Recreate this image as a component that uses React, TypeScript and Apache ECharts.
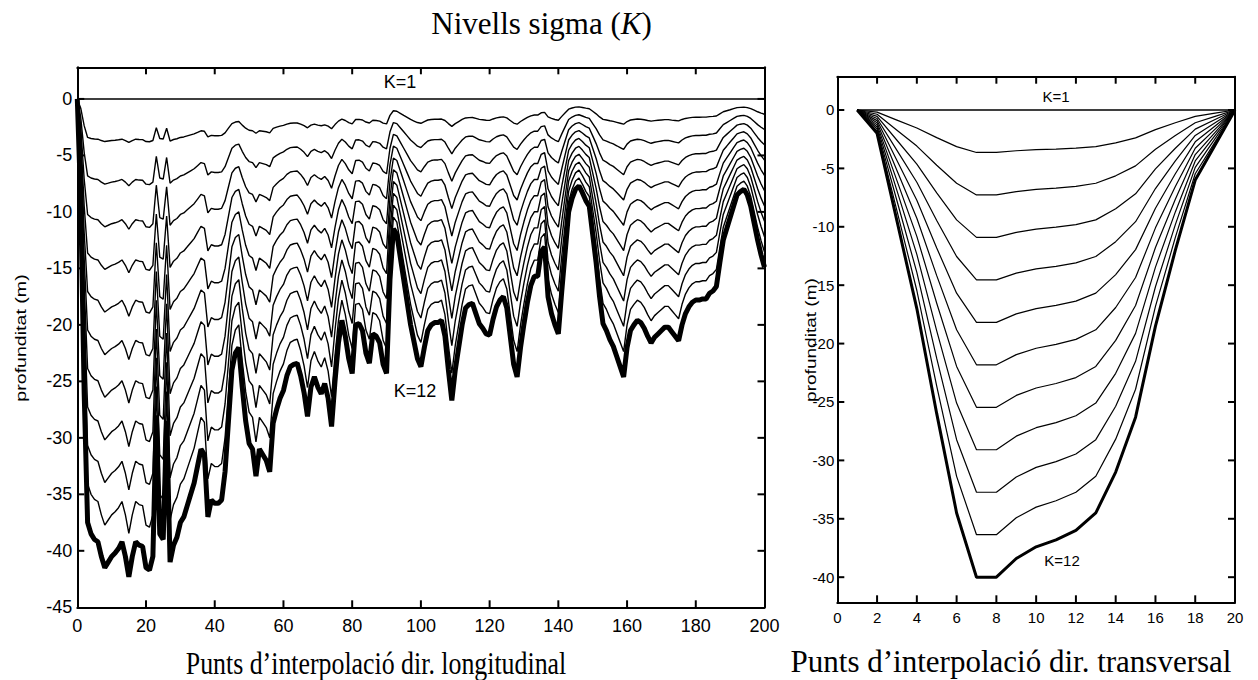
import React, { useEffect, useRef } from "react";
import * as echarts from "echarts";

// ---------- DATA ----------
const SIGMA_LEVELS = 12;

// Bottom depth (K = 12) along the longitudinal direction, x = 0..200
const longDepth: number[] = [
  0, -9, -26, -37.5, -38.5, -39, -39.2, -40.5, -41.5, -41,
  -40.5, -40.2, -39.8, -39.2, -40.5, -42.3, -40.5, -39.2, -39.5, -39.6,
  -41.5, -41.7, -40.5, -28, -38.5, -39, -28.5, -41, -39.5, -38.8,
  -37.5, -37, -36, -35, -34, -32.5, -31, -31.5, -37, -35.5,
  -35.8, -35.8, -35.5, -33, -28.5, -24, -22.5, -22, -25.5, -28.5,
  -30.5, -31, -33.4, -31, -31.5, -32, -33, -28.7, -27.5, -26.5,
  -25.8, -24.5, -23.7, -23.5, -23.4, -24.5, -26, -28.1, -25.5, -24.6,
  -25.5, -26.1, -25.2, -26.5, -29, -25, -21.6, -19.6, -21, -23,
  -24.3, -20, -19.9, -20.5, -22.5, -23.4, -20.8, -21, -21.6, -23.5,
  -24.3, -16, -11.5, -12, -14, -16, -18, -20, -21.5, -23,
  -23.7, -22, -20.5, -20, -19.8, -19.8, -19.6, -21, -24, -26.7,
  -24, -22, -20, -18.5, -18.2, -18.1, -19, -19.9, -20.3, -20.8,
  -20.9, -19.5, -18.4, -17.8, -17.5, -18.5, -21, -23.5, -24.6, -22,
  -19.9, -18, -16.5, -15.7, -15.7, -13.5, -13.1, -17.5, -19, -20,
  -20.8, -17, -13.5, -10, -8.8, -8, -7.7, -8.3, -9, -9.5,
  -12, -14.5, -17.5, -19.9, -20.5, -21.3, -21.9, -22.8, -23.7, -24.6,
  -22, -20.5, -20, -19.6, -19.8, -20.3, -21, -21.6, -21.1, -20.8,
  -20.5, -20.2, -20.2, -20.6, -21, -21.4, -20, -19, -18.4, -18,
  -17.8, -17.8, -17.7, -17.7, -17.2, -17, -16.6, -14.5, -12.5, -11.5,
  -10.5, -9.5, -8.5, -8.2, -8, -8.5, -9.5, -11, -12.5, -13.8,
  -14.9,
];
const longX: number[] = longDepth.map((_, i) => i);

// Bottom depth (K = 12) along the transversal direction
const transX: number[] = [1, 2, 3, 4, 5, 6, 7, 8, 9, 10, 11, 12, 13, 14, 15, 16, 17, 18, 19, 20];
const transDepth: number[] = [
  0, -2, -9.5, -17, -26, -34.5, -40, -40, -38.4, -37.4,
  -36.8, -36, -34.5, -31, -26.3, -18.5, -12, -6, -3, 0,
];

// tick values
const leftXTicks = [20, 40, 60, 80, 100, 120, 140, 160, 180];
const leftYTicks = [-45, -40, -35, -30, -25, -20, -15, -10, -5, 0];
const rightXTicks = [2, 4, 6, 8, 10, 12, 14, 16, 18];
const rightYTicks = [-40, -35, -30, -25, -20, -15, -10, -5, 0];

const TITLE = "Nivells sigma (";
const TITLE_IT = "K";
const Y_NAME = "profunditat (m)";
const X_NAME_LEFT = "Punts d\u2019interpolaci\u00f3 dir. longitudinal";
const X_NAME_RIGHT = "Punts d\u2019interpolaci\u00f3 dir. transversal";

// ---------- helpers ----------
function levelData(xs: number[], depth: number[], k: number) {
  const f = (k - 1) / (SIGMA_LEVELS - 1);
  return xs.map((x, i) => [x, +(depth[i] * f).toFixed(3)]);
}

const SANS = "Liberation Sans, Arial, sans-serif";
const SERIF = "Liberation Serif, Times New Roman, serif";
const TICK_LEN = 7;

function boxAxes(grid: number, xmin: number, xmax: number, xint: number, ymin: number, ymax: number, yticks: number[], fs: number, xMargin: number, yMargin: number) {
  const line = { show: true, onZero: false, lineStyle: { color: "#000", width: 2 } };
  const xa = [
    {
      type: "value", gridIndex: grid, position: "bottom", min: xmin, max: xmax, interval: xint,
      axisLine: line, axisTick: { show: false }, splitLine: { show: false },
      axisLabel: { color: "#000", fontSize: fs, fontFamily: SANS, margin: xMargin },
    },
    {
      type: "value", gridIndex: grid, position: "top", min: xmin, max: xmax, interval: xint,
      axisLine: line, axisTick: { show: false }, splitLine: { show: false }, axisLabel: { show: false },
    },
  ];
  const ya = [
    {
      type: "value", gridIndex: grid, position: "left", min: ymin, max: ymax,
      axisLine: line, axisTick: { show: false }, splitLine: { show: false },
      axisLabel: {
        color: "#000", fontSize: fs, fontFamily: SANS, margin: yMargin, customValues: yticks,
        formatter: (v: number) => (Math.abs(v % 5) < 1e-6 ? String(v) : ""),
      },
    },
    {
      type: "value", gridIndex: grid, position: "right", min: ymin, max: ymax,
      axisLine: line, axisTick: { show: false }, splitLine: { show: false },
      axisLabel: { show: false },
    },
  ];
  return { xa, ya };
}

// inward box ticks on all four frame sides, placed through the axes' own scales
function tickSeries(axisIdx: number, values: number[], dir: "x" | "y", xmin: number, xmax: number, ymin: number, ymax: number) {
  const data: number[][] = [];
  values.forEach((v) => {
    if (dir === "x") {
      data.push([v, ymin, 1]);
      data.push([v, ymax, -1]);
    } else {
      data.push([xmin, v, 1]);
      data.push([xmax, v, -1]);
    }
  });
  return {
    type: "custom", xAxisIndex: axisIdx, yAxisIndex: axisIdx, silent: true, clip: false, z: 6,
    dimensions: ["px", "py", "side"],
    data,
    encode: { x: 0, y: 1 },
    renderItem: (_p: any, api: any) => {
      const p = api.coord([api.value(0), api.value(1)]);
      const s = Number(api.value(2)) || 1;
      const shape = dir === "x"
        ? { x1: p[0], y1: p[1], x2: p[0], y2: p[1] - s * TICK_LEN }
        : { x1: p[0], y1: p[1], x2: p[0] + s * TICK_LEN, y2: p[1] };
      return { type: "line", shape, style: { stroke: "#000", lineWidth: 2 } };
    },
  };
}

function buildOption() {
  const L = boxAxes(0, 0, 200, 20, -45, 2.8, leftYTicks, 18, 10, 5);
  const R = boxAxes(1, 0, 20, 2, -42.15, 2.85, rightYTicks, 15, 8, 3);

  const series: any[] = [];
  for (let k = 1; k <= SIGMA_LEVELS; k++) {
    series.push({
      type: "line", xAxisIndex: 0, yAxisIndex: 0, data: levelData(longX, longDepth, k),
      showSymbol: false, silent: true, clip: true,
      lineStyle: { color: "#000", width: k === SIGMA_LEVELS ? 5 : k === 1 ? 1.6 : 1.4 },
      z: k === SIGMA_LEVELS ? 3 : 2,
    });
    series.push({
      type: "line", xAxisIndex: 2, yAxisIndex: 2, data: levelData(transX, transDepth, k),
      showSymbol: false, silent: true, clip: true,
      lineStyle: { color: "#000", width: k === SIGMA_LEVELS ? 3 : k === 1 ? 1.6 : 1.2 },
      z: k === SIGMA_LEVELS ? 3 : 2,
    });
  }
  series.push(tickSeries(0, leftXTicks, "x", 0, 200, -45, 2.8));
  series.push(tickSeries(0, leftYTicks.filter((v) => v > -45), "y", 0, 200, -45, 2.8));
  series.push(tickSeries(2, rightXTicks, "x", 0, 20, -42.15, 2.85));
  series.push(tickSeries(2, rightYTicks, "y", 0, 20, -42.15, 2.85));

  const txt = (x: number, y: number, text: string, fs: number) => ({
    type: "text", x, y, z: 10,
    style: { text, fill: "#000", fontSize: fs, fontFamily: SANS, align: "center", verticalAlign: "middle" },
  });

  return {
    animation: false,
    backgroundColor: "#fff",
    grid: [
      { left: 77.3, top: 67.3, width: 687.2, height: 540, containLabel: false },
      { left: 837.3, top: 76.7, width: 397.7, height: 525.6, containLabel: false },
    ],
    xAxis: [...L.xa, ...R.xa],
    yAxis: [...L.ya, ...R.ya],
    series,
    graphic: [
      {
        type: "text", x: 541.5, y: 23, z: 10,
        style: {
          text: `{n|${TITLE}}{i|${TITLE_IT}}{n|)}`,
          align: "center", verticalAlign: "middle",
          rich: {
            n: { fontFamily: SERIF, fontSize: 31, fill: "#000" },
            i: { fontFamily: SERIF, fontSize: 31, fontStyle: "italic", fill: "#000" },
          },
        },
      },
      {
        type: "text", x: 376, y: 664, z: 10, scaleX: 0.834,
        style: { text: X_NAME_LEFT, fill: "#000", fontSize: 31, fontFamily: SERIF, align: "center", verticalAlign: "middle" },
      },
      {
        type: "text", x: 1011, y: 661, z: 10,
        style: { text: X_NAME_RIGHT, fill: "#000", fontSize: 31, fontFamily: SERIF, align: "center", verticalAlign: "middle" },
      },
      {
        type: "text", x: 21, y: 338, z: 10, rotation: Math.PI / 2, scaleX: 1.4,
        style: { text: Y_NAME, fill: "#000", fontSize: 14, fontFamily: SANS, align: "center", verticalAlign: "middle" },
      },
      {
        type: "text", x: 811, y: 340, z: 10, rotation: Math.PI / 2, scaleX: 1.36,
        style: { text: Y_NAME, fill: "#000", fontSize: 14, fontFamily: SANS, align: "center", verticalAlign: "middle" },
      },
      txt(400, 82, "K=1", 18),
      txt(415, 391, "K=12", 18),
      txt(1056, 96, "K=1", 15),
      txt(1062, 560, "K=12", 15),
    ],
  };
}

export default function App() {
  const ref = useRef<HTMLDivElement>(null);
  useEffect(() => {
    if (!ref.current) return;
    const chart = echarts.init(ref.current, null, { renderer: "svg" });
    chart.setOption(buildOption() as any);
    return () => chart.dispose();
  }, []);
  return (
    <div
      ref={ref}
      style={{ position: "fixed", left: 0, top: 0, width: 1258, height: 680, background: "#fff" }}
    />
  );
}
